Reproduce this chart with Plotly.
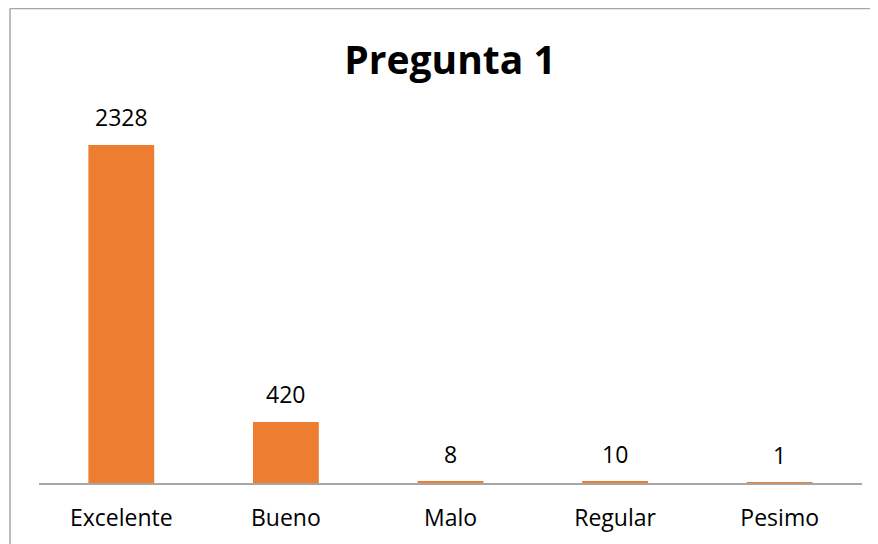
import plotly.graph_objects as go

categories = ["Excelente", "Bueno", "Malo", "Regular", "Pesimo"]
values = [2328, 420, 8, 10, 1]
title_text = "Pregunta 1"

W, H = 878, 544
L, R, T, B = 31, 24, 112, 69
pw, ph = W - L - R, H - T - B

fig = go.Figure()
fig.add_trace(go.Bar(
    x=categories, y=values,
    marker=dict(color="#ED7D31", line=dict(width=0)),
    width=0.4,
    hoverinfo="x+y",
))

for c, v in zip(categories, values):
    fig.add_annotation(x=c, y=v, text=str(v), showarrow=False,
                       yanchor="middle", yshift=28,
                       font=dict(family="Open Sans", size=23, color="#000000"))

def px_x(x):
    return (x - L) / pw
def px_y(y):
    return (H - B - y) / ph

fig.add_shape(type="line", xref="paper", yref="paper",
              x0=px_x(2), x1=px_x(2), y0=px_y(0.5), y1=px_y(H + 5),
              line=dict(color="#A6A6A6", width=1.5))
fig.add_shape(type="line", xref="paper", yref="paper",
              x0=px_x(2), x1=px_x(W + 5), y0=px_y(0.5), y1=px_y(0.5),
              line=dict(color="#A6A6A6", width=1.5))

fig.update_layout(
    width=W, height=H,
    margin=dict(l=L, r=R, t=T, b=B),
    paper_bgcolor="white", plot_bgcolor="white",
    showlegend=False,
    title=dict(text="<b>" + title_text + "</b>", x=(450 - 8) / W, xanchor="center",
               y=1 - 52 / H, yanchor="middle",
               font=dict(family="Open Sans", size=39, color="#000000")),
    bargap=0.6,
    font=dict(family="Open Sans", size=23, color="#000000"),
)
fig.update_xaxes(showline=True, linecolor="#A6A6A6", linewidth=1.5,
                 ticks="", showgrid=False, zeroline=False,
                 tickfont=dict(family="Open Sans", size=23, color="#000000"),
                 ticklabelstandoff=14)
fig.update_yaxes(range=[0, 2500], visible=False, showgrid=False, zeroline=False)

fig.write_html("out.html")
